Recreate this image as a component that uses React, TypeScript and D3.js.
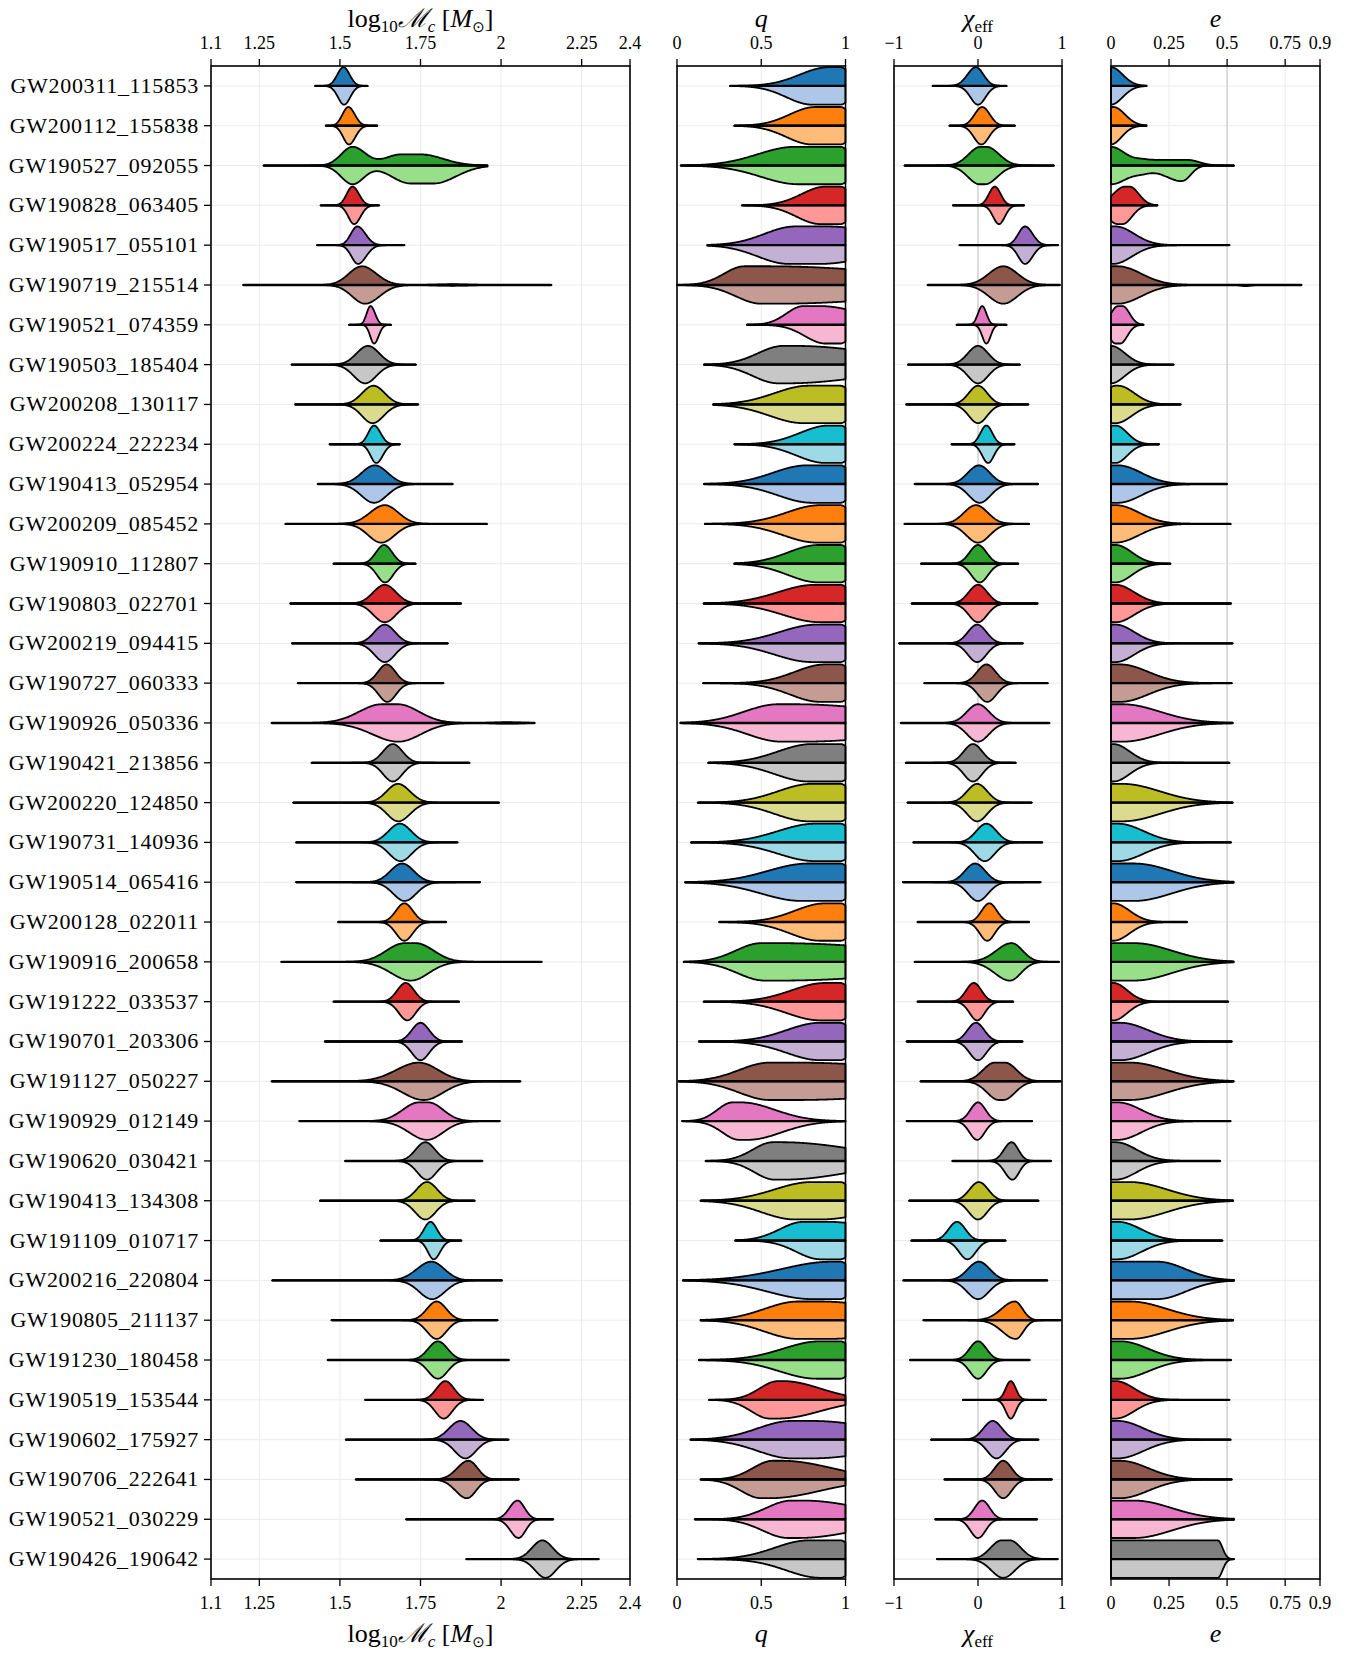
import React from "react";
import * as d3 from "d3";

// Event names, top to bottom
const events = [
  "GW200311_115853", "GW200112_155838", "GW190527_092055", "GW190828_063405",
  "GW190517_055101", "GW190719_215514", "GW190521_074359", "GW190503_185404",
  "GW200208_130117", "GW200224_222234", "GW190413_052954", "GW200209_085452",
  "GW190910_112807", "GW190803_022701", "GW200219_094415", "GW190727_060333",
  "GW190926_050336", "GW190421_213856", "GW200220_124850", "GW190731_140936",
  "GW190514_065416", "GW200128_022011", "GW190916_200658", "GW191222_033537",
  "GW190701_203306", "GW191127_050227", "GW190929_012149", "GW190620_030421",
  "GW190413_134308", "GW191109_010717", "GW200216_220804", "GW190805_211137",
  "GW191230_180458", "GW190519_153544", "GW190602_175927", "GW190706_222641",
  "GW190521_030229", "GW190426_190642",
];

// A half-violin profile: [plateau start, plateau end, left spread, right spread]
type Shape = [number, number, number, number];
// A violin: [sample min, sample max, upper half, lower half]
type Row = [number, number, Shape, Shape];

const chirpMass: Row[] = [
  [1.423, 1.586, [1.511, 1.511, 0.019, 0.019], [1.513, 1.513, 0.019, 0.019]],
  [1.456, 1.616, [1.526, 1.526, 0.018, 0.02], [1.528, 1.528, 0.018, 0.02]],
  [1.263, 1.958, [1.539, 1.539, 0.035, 0.04], [1.539, 1.539, 0.035, 0.035]],
  [1.44, 1.622, [1.539, 1.539, 0.018, 0.02], [1.544, 1.544, 0.018, 0.02]],
  [1.429, 1.7, [1.554, 1.554, 0.02, 0.025], [1.556, 1.556, 0.02, 0.025]],
  [1.2, 2.156, [1.568, 1.568, 0.04, 0.045], [1.578, 1.578, 0.04, 0.045]],
  [1.528, 1.659, [1.595, 1.595, 0.012, 0.014], [1.606, 1.606, 0.012, 0.014]],
  [1.35, 1.736, [1.587, 1.587, 0.035, 0.035], [1.578, 1.578, 0.035, 0.035]],
  [1.361, 1.743, [1.604, 1.604, 0.035, 0.035], [1.601, 1.601, 0.033, 0.035]],
  [1.468, 1.686, [1.606, 1.606, 0.018, 0.02], [1.613, 1.613, 0.018, 0.02]],
  [1.431, 1.85, [1.608, 1.608, 0.04, 0.04], [1.606, 1.606, 0.04, 0.04]],
  [1.331, 1.956, [1.639, 1.639, 0.045, 0.042], [1.628, 1.628, 0.04, 0.042]],
  [1.48, 1.735, [1.637, 1.637, 0.025, 0.025], [1.64, 1.64, 0.025, 0.025]],
  [1.346, 1.876, [1.639, 1.639, 0.035, 0.035], [1.639, 1.639, 0.035, 0.035]],
  [1.351, 1.835, [1.639, 1.639, 0.032, 0.032], [1.639, 1.639, 0.032, 0.032]],
  [1.369, 1.821, [1.645, 1.645, 0.027, 0.027], [1.647, 1.647, 0.027, 0.027]],
  [1.288, 2.104, [1.63, 1.68, 0.07, 0.065], [1.681, 1.681, 0.08, 0.07]],
  [1.412, 1.902, [1.664, 1.664, 0.03, 0.03], [1.664, 1.664, 0.03, 0.03]],
  [1.355, 1.994, [1.68, 1.68, 0.035, 0.037], [1.681, 1.681, 0.035, 0.037]],
  [1.364, 1.865, [1.686, 1.686, 0.035, 0.035], [1.688, 1.688, 0.035, 0.035]],
  [1.364, 1.935, [1.693, 1.693, 0.036, 0.036], [1.701, 1.701, 0.036, 0.036]],
  [1.494, 1.83, [1.7, 1.7, 0.026, 0.026], [1.7, 1.7, 0.026, 0.026]],
  [1.318, 2.126, [1.7, 1.735, 0.055, 0.055], [1.72, 1.72, 0.06, 0.055]],
  [1.48, 1.87, [1.704, 1.704, 0.026, 0.026], [1.709, 1.709, 0.026, 0.026]],
  [1.453, 1.879, [1.75, 1.75, 0.027, 0.027], [1.75, 1.75, 0.027, 0.027]],
  [1.288, 2.06, [1.745, 1.745, 0.07, 0.06], [1.76, 1.76, 0.065, 0.06]],
  [1.374, 1.996, [1.745, 1.775, 0.05, 0.045], [1.77, 1.77, 0.055, 0.05]],
  [1.516, 1.942, [1.765, 1.765, 0.03, 0.03], [1.77, 1.77, 0.03, 0.03]],
  [1.438, 1.918, [1.77, 1.77, 0.032, 0.032], [1.765, 1.765, 0.032, 0.032]],
  [1.625, 1.877, [1.781, 1.781, 0.02, 0.02], [1.791, 1.791, 0.018, 0.02]],
  [1.29, 2.003, [1.784, 1.784, 0.045, 0.04], [1.786, 1.786, 0.04, 0.04]],
  [1.474, 1.989, [1.8, 1.8, 0.03, 0.03], [1.8, 1.8, 0.03, 0.03]],
  [1.462, 2.024, [1.804, 1.804, 0.03, 0.03], [1.804, 1.804, 0.03, 0.03]],
  [1.578, 1.944, [1.827, 1.827, 0.027, 0.027], [1.822, 1.822, 0.027, 0.027]],
  [1.518, 2.023, [1.874, 1.874, 0.035, 0.035], [1.889, 1.889, 0.033, 0.033]],
  [1.549, 2.055, [1.899, 1.899, 0.035, 0.028], [1.894, 1.894, 0.035, 0.028]],
  [1.705, 2.162, [2.051, 2.051, 0.025, 0.022], [2.054, 2.054, 0.025, 0.022]],
  [1.892, 2.303, [2.128, 2.128, 0.032, 0.032], [2.138, 2.138, 0.032, 0.032]],
];

const massRatio: Row[] = [
  [0.315, 1, [0.9, 0.97, 0.17, 0.06], [0.8, 0.97, 0.15, 0.06]],
  [0.34, 1, [0.82, 0.97, 0.15, 0.06], [0.8, 0.97, 0.15, 0.06]],
  [0.022, 1, [0.7, 0.97, 0.22, 0.06], [0.72, 0.97, 0.22, 0.06]],
  [0.385, 1, [0.88, 0.97, 0.14, 0.06], [0.85, 0.97, 0.14, 0.06]],
  [0.18, 1, [0.7, 0.9, 0.18, 0.3], [0.66, 0.85, 0.18, 0.3]],
  [0.0, 1, [0.4, 0.55, 0.12, 0.8], [0.5, 0.6, 0.15, 0.8]],
  [0.415, 1, [0.75, 0.85, 0.1, 0.25], [0.88, 0.97, 0.12, 0.06]],
  [0.16, 1, [0.63, 0.7, 0.15, 0.5], [0.6, 0.65, 0.15, 0.5]],
  [0.215, 1, [0.78, 0.97, 0.2, 0.06], [0.75, 0.97, 0.2, 0.06]],
  [0.34, 1, [0.9, 0.97, 0.17, 0.06], [0.88, 0.97, 0.17, 0.06]],
  [0.16, 1, [0.77, 0.97, 0.2, 0.06], [0.8, 0.97, 0.2, 0.06]],
  [0.165, 1, [0.85, 0.97, 0.2, 0.06], [0.83, 0.97, 0.2, 0.06]],
  [0.34, 1, [0.84, 0.97, 0.18, 0.06], [0.84, 0.97, 0.18, 0.06]],
  [0.158, 1, [0.82, 0.97, 0.22, 0.06], [0.85, 0.97, 0.22, 0.06]],
  [0.128, 1, [0.83, 0.97, 0.22, 0.06], [0.8, 0.97, 0.22, 0.06]],
  [0.155, 1, [0.88, 0.97, 0.18, 0.06], [0.85, 0.97, 0.18, 0.06]],
  [0.02, 1, [0.6, 0.7, 0.2, 0.6], [0.62, 0.75, 0.2, 0.6]],
  [0.185, 1, [0.8, 0.97, 0.2, 0.06], [0.78, 0.97, 0.2, 0.06]],
  [0.123, 1, [0.8, 0.97, 0.2, 0.06], [0.78, 0.97, 0.2, 0.06]],
  [0.083, 1, [0.82, 0.97, 0.22, 0.06], [0.82, 0.97, 0.22, 0.06]],
  [0.048, 1, [0.78, 0.97, 0.24, 0.06], [0.74, 0.97, 0.24, 0.06]],
  [0.25, 1, [0.88, 0.97, 0.18, 0.06], [0.85, 0.97, 0.18, 0.06]],
  [0.04, 1, [0.5, 0.6, 0.15, 0.8], [0.52, 0.62, 0.16, 0.8]],
  [0.158, 1, [0.88, 0.97, 0.2, 0.06], [0.85, 0.97, 0.2, 0.06]],
  [0.13, 1, [0.85, 0.97, 0.2, 0.06], [0.85, 0.97, 0.2, 0.06]],
  [0.01, 1, [0.55, 0.7, 0.18, 0.8], [0.55, 0.7, 0.18, 0.8]],
  [0.03, 1, [0.33, 0.38, 0.09, 0.2], [0.37, 0.42, 0.1, 0.2]],
  [0.17, 1, [0.57, 0.62, 0.12, 0.45], [0.58, 0.63, 0.12, 0.4]],
  [0.14, 1, [0.8, 0.97, 0.22, 0.06], [0.7, 0.85, 0.2, 0.3]],
  [0.345, 1, [0.75, 0.9, 0.14, 0.3], [0.85, 0.97, 0.14, 0.06]],
  [0.035, 1, [0.92, 0.97, 0.3, 0.06], [0.8, 0.97, 0.26, 0.06]],
  [0.14, 1, [0.72, 0.85, 0.2, 0.4], [0.72, 0.9, 0.2, 0.4]],
  [0.13, 1, [0.85, 0.97, 0.22, 0.06], [0.83, 0.97, 0.22, 0.06]],
  [0.19, 1, [0.6, 0.63, 0.11, 0.22], [0.55, 0.6, 0.11, 0.25]],
  [0.08, 1, [0.68, 0.8, 0.2, 0.4], [0.68, 0.8, 0.2, 0.4]],
  [0.14, 1, [0.57, 0.62, 0.12, 0.3], [0.5, 0.55, 0.12, 0.3]],
  [0.105, 1, [0.68, 0.75, 0.15, 0.35], [0.66, 0.72, 0.15, 0.35]],
  [0.123, 1, [0.78, 0.97, 0.2, 0.06], [0.85, 0.97, 0.2, 0.06]],
];

const chiEff: Row[] = [
  [-0.54, 0.34, [-0.025, -0.025, 0.1, 0.09], [0.0, 0.0, 0.09, 0.09]],
  [-0.34, 0.44, [0.05, 0.05, 0.09, 0.09], [0.04, 0.04, 0.09, 0.09]],
  [-0.875, 0.905, [0.03, 0.1, 0.14, 0.15], [0.02, 0.08, 0.14, 0.15]],
  [-0.3, 0.55, [0.2, 0.2, 0.07, 0.07], [0.25, 0.25, 0.07, 0.07]],
  [-0.22, 0.955, [0.56, 0.56, 0.08, 0.09], [0.56, 0.56, 0.08, 0.09]],
  [-0.6, 0.975, [0.3, 0.3, 0.17, 0.17], [0.3, 0.3, 0.17, 0.17]],
  [-0.255, 0.34, [0.05, 0.05, 0.05, 0.05], [0.1, 0.1, 0.05, 0.05]],
  [-0.835, 0.5, [0.0, 0.0, 0.12, 0.12], [0.0, 0.0, 0.12, 0.12]],
  [-0.855, 0.6, [0.0, 0.0, 0.11, 0.11], [0.0, 0.0, 0.11, 0.11]],
  [-0.315, 0.435, [0.1, 0.1, 0.07, 0.07], [0.12, 0.12, 0.07, 0.07]],
  [-0.755, 0.715, [0.01, 0.01, 0.13, 0.13], [0.02, 0.02, 0.13, 0.13]],
  [-0.875, 0.61, [-0.025, -0.025, 0.14, 0.14], [0.0, 0.0, 0.14, 0.14]],
  [-0.68, 0.48, [0.0, 0.0, 0.1, 0.1], [0.02, 0.02, 0.1, 0.1]],
  [-0.79, 0.71, [0.0, 0.0, 0.11, 0.11], [0.0, 0.0, 0.11, 0.11]],
  [-0.94, 0.535, [-0.01, -0.01, 0.11, 0.11], [-0.01, -0.01, 0.11, 0.11]],
  [-0.64, 0.83, [0.1, 0.1, 0.11, 0.11], [0.11, 0.11, 0.11, 0.11]],
  [-0.92, 0.85, [0.0, 0.0, 0.13, 0.13], [0.0, 0.0, 0.13, 0.13]],
  [-0.86, 0.45, [-0.06, -0.06, 0.11, 0.11], [-0.06, -0.06, 0.11, 0.11]],
  [-0.84, 0.64, [-0.01, -0.01, 0.12, 0.12], [-0.01, -0.01, 0.12, 0.12]],
  [-0.77, 0.765, [0.1, 0.1, 0.12, 0.12], [0.08, 0.08, 0.12, 0.12]],
  [-0.895, 0.745, [-0.035, -0.035, 0.12, 0.12], [0.0, 0.0, 0.12, 0.12]],
  [-0.72, 0.61, [0.135, 0.135, 0.09, 0.09], [0.11, 0.11, 0.09, 0.09]],
  [-0.755, 0.965, [0.4, 0.4, 0.18, 0.13], [0.38, 0.38, 0.18, 0.13]],
  [-0.72, 0.42, [-0.05, -0.05, 0.09, 0.09], [-0.01, -0.01, 0.09, 0.09]],
  [-0.85, 0.53, [-0.025, -0.025, 0.1, 0.1], [0.0, 0.0, 0.1, 0.1]],
  [-0.685, 0.985, [0.2, 0.32, 0.14, 0.14], [0.25, 0.3, 0.14, 0.14]],
  [-0.85, 0.645, [0.0, 0.0, 0.09, 0.09], [-0.01, -0.01, 0.09, 0.09]],
  [-0.305, 0.87, [0.4, 0.4, 0.09, 0.08], [0.41, 0.41, 0.09, 0.08]],
  [-0.82, 0.72, [0.01, 0.01, 0.11, 0.11], [0.0, 0.0, 0.11, 0.11]],
  [-0.795, 0.33, [-0.25, -0.25, 0.1, 0.1], [-0.125, -0.125, 0.1, 0.1]],
  [-0.89, 0.825, [0.01, 0.01, 0.13, 0.13], [0.0, 0.0, 0.13, 0.13]],
  [-0.65, 0.985, [0.44, 0.44, 0.16, 0.09], [0.45, 0.45, 0.16, 0.09]],
  [-0.81, 0.615, [0.0, 0.0, 0.1, 0.1], [0.0, 0.0, 0.1, 0.1]],
  [-0.18, 0.81, [0.39, 0.39, 0.06, 0.06], [0.39, 0.39, 0.06, 0.06]],
  [-0.56, 0.72, [0.175, 0.175, 0.11, 0.11], [0.22, 0.22, 0.11, 0.11]],
  [-0.4, 0.88, [0.3, 0.3, 0.1, 0.1], [0.3, 0.3, 0.1, 0.1]],
  [-0.51, 0.705, [0.05, 0.05, 0.09, 0.09], [0.0, 0.0, 0.09, 0.09]],
  [-0.49, 0.95, [0.28, 0.38, 0.13, 0.13], [0.3, 0.3, 0.14, 0.14]],
];

const eccentricity: Row[] = [
  [0, 0.153, [0, 0, 0.05, 0.05], [0, 0, 0.05, 0.05]],
  [0, 0.153, [0, 0.01, 0.05, 0.05], [0, 0, 0.05, 0.045]],
  [0, 0.53, [0, 0, 0.05, 0.06], [0, 0, 0.05, 0.07]],
  [0, 0.2, [0.06, 0.08, 0.05, 0.04], [0.03, 0.05, 0.05, 0.04]],
  [0, 0.51, [0, 0.02, 0.05, 0.08], [0, 0.01, 0.05, 0.08]],
  [0, 0.82, [0, 0.03, 0.05, 0.1], [0, 0.03, 0.05, 0.1]],
  [0, 0.14, [0.03, 0.05, 0.03, 0.03], [0.02, 0.04, 0.03, 0.03]],
  [0, 0.27, [0, 0, 0.05, 0.06], [0, 0, 0.05, 0.06]],
  [0, 0.3, [0.02, 0.03, 0.05, 0.07], [0.01, 0.02, 0.05, 0.07]],
  [0, 0.207, [0.01, 0.02, 0.05, 0.05], [0.01, 0.02, 0.05, 0.05]],
  [0, 0.5, [0, 0.03, 0.05, 0.1], [0, 0.03, 0.05, 0.1]],
  [0, 0.515, [0, 0.02, 0.05, 0.1], [0, 0.02, 0.05, 0.1]],
  [0, 0.256, [0, 0.02, 0.05, 0.07], [0, 0.02, 0.05, 0.07]],
  [0, 0.517, [0, 0.02, 0.05, 0.08], [0, 0.02, 0.05, 0.08]],
  [0, 0.524, [0, 0.02, 0.05, 0.08], [0, 0.02, 0.05, 0.08]],
  [0, 0.52, [0, 0.04, 0.05, 0.12], [0, 0.04, 0.05, 0.12]],
  [0, 0.524, [0, 0.05, 0.05, 0.16], [0, 0.05, 0.05, 0.16]],
  [0, 0.51, [0, 0.01, 0.05, 0.07], [0, 0.01, 0.05, 0.07]],
  [0, 0.524, [0, 0.05, 0.05, 0.16], [0, 0.05, 0.05, 0.16]],
  [0, 0.517, [0, 0.03, 0.05, 0.11], [0, 0.03, 0.05, 0.11]],
  [0, 0.528, [0, 0.1, 0.05, 0.16], [0, 0.1, 0.05, 0.16]],
  [0, 0.328, [0, 0.01, 0.05, 0.07], [0, 0.01, 0.05, 0.07]],
  [0, 0.528, [0, 0.1, 0.05, 0.16], [0, 0.1, 0.05, 0.16]],
  [0, 0.505, [0, 0.01, 0.05, 0.06], [0, 0.01, 0.05, 0.06]],
  [0, 0.52, [0, 0.04, 0.05, 0.12], [0, 0.04, 0.05, 0.12]],
  [0, 0.528, [0, 0.08, 0.05, 0.16], [0, 0.08, 0.05, 0.16]],
  [0, 0.515, [0, 0.03, 0.05, 0.1], [0, 0.03, 0.05, 0.1]],
  [0, 0.47, [0, 0.02, 0.05, 0.09], [0, 0.02, 0.05, 0.09]],
  [0, 0.526, [0, 0.08, 0.05, 0.16], [0, 0.08, 0.05, 0.16]],
  [0, 0.48, [0, 0.03, 0.05, 0.1], [0, 0.03, 0.05, 0.1]],
  [0, 0.53, [0, 0.2, 0.05, 0.12], [0, 0.2, 0.05, 0.12]],
  [0, 0.526, [0, 0.08, 0.05, 0.16], [0, 0.08, 0.05, 0.16]],
  [0, 0.517, [0, 0.04, 0.05, 0.12], [0, 0.04, 0.05, 0.12]],
  [0, 0.51, [0, 0.02, 0.05, 0.08], [0, 0.02, 0.05, 0.08]],
  [0, 0.515, [0, 0.03, 0.05, 0.11], [0, 0.03, 0.05, 0.11]],
  [0, 0.52, [0, 0.04, 0.05, 0.12], [0, 0.04, 0.05, 0.12]],
  [0, 0.53, [0, 0.1, 0.05, 0.16], [0, 0.1, 0.05, 0.16]],
  [0, 0.53, [0, 0.46, 0.05, 0.02], [0, 0.46, 0.05, 0.02]],
];

// Secondary modes and thin tails: [panel, row, half, shape, weight]
type Extra = [string, number, "upper" | "lower", Shape, number];
const extraModes: Extra[] = [
  ["mc", 2, "upper", [1.69, 1.75, 0.05, 0.07], 0.6],
  ["mc", 2, "lower", [1.72, 1.79, 0.06, 0.07], 0.97],
  ["mc", 5, "upper", [1.85, 1.85, 0.05, 0.05], 0.04],
  ["mc", 5, "lower", [1.85, 1.85, 0.05, 0.05], 0.04],
  ["mc", 16, "upper", [2.02, 2.02, 0.04, 0.04], 0.04],
  ["mc", 16, "lower", [2.02, 2.02, 0.04, 0.04], 0.04],
  ["e", 2, "upper", [0.15, 0.33, 0.05, 0.05], 0.3],
  ["e", 2, "lower", [0.31, 0.31, 0.05, 0.035], 0.75],
  ["e", 2, "lower", [0.15, 0.22, 0.05, 0.05], 0.35],
  ["e", 5, "lower", [0.58, 0.58, 0.02, 0.02], 0.06],
];

// Tick values and their labels for each panel
const mcTicks = [1.1, 1.25, 1.5, 1.75, 2, 2.25, 2.4];
const mcTickLabels = ["1.1", "1.25", "1.5", "1.75", "2", "2.25", "2.4"];
const qTicks = [0, 0.5, 1];
const qTickLabels = ["0", "0.5", "1"];
const chiTicks = [-1, 0, 1];
const chiTickLabels = ["\u22121", "0", "1"];
const eTicks = [0, 0.25, 0.5, 0.75, 0.9];
const eTickLabels = ["0", "0.25", "0.5", "0.75", "0.9"];

const darkColors = d3.schemeCategory10;
const lightColors = [
  "#aec7e8", "#ffbb78", "#98df8a", "#ff9896", "#c5b0d5",
  "#c49c94", "#f7b6d2", "#c7c7c7", "#dbdb8d", "#9edae5",
];

const FONT = "'Liberation Serif', 'DejaVu Serif', serif";
const TOP = 66;
const BOTTOM = 1579;

type Panel = {
  key: string;
  rows: Row[];
  domain: [number, number];
  x0: number;
  x1: number;
  ticks: number[];
  labels: string[];
  refLine?: number;
  title: React.ReactNode;
};

const panels: Panel[] = [
  {
    key: "mc", rows: chirpMass, domain: [1.1, 2.4], x0: 211, x1: 630,
    ticks: mcTicks, labels: mcTickLabels,
    title: (
      <>
        log<tspan fontSize={17} dy={5}>10</tspan>
        <tspan dy={-5} fontStyle="italic" fontFamily="'DejaVu Serif', serif">{"\u2133"}</tspan>
        <tspan fontSize={17} dy={5} fontStyle="italic">c</tspan>
        <tspan dy={-5}>{" ["}</tspan>
        <tspan fontStyle="italic">M</tspan>
        <tspan fontSize={15} dy={5} fontFamily="'DejaVu Sans', sans-serif">{"\u2299"}</tspan>
        <tspan dy={-5}>]</tspan>
      </>
    ),
  },
  {
    key: "q", rows: massRatio, domain: [0, 1], x0: 677, x1: 845.5,
    ticks: qTicks, labels: qTickLabels,
    title: <tspan fontStyle="italic">q</tspan>,
  },
  {
    key: "chi", rows: chiEff, domain: [-1, 1], x0: 894, x1: 1062,
    ticks: chiTicks, labels: chiTickLabels, refLine: 0,
    title: (
      <>
        <tspan fontStyle="italic">{"\u03c7"}</tspan>
        <tspan fontSize={17} dy={5}>eff</tspan>
      </>
    ),
  },
  {
    key: "e", rows: eccentricity, domain: [0, 0.9], x0: 1111, x1: 1320,
    ticks: eTicks, labels: eTickLabels, refLine: 0.5,
    title: <tspan fontStyle="italic">e</tspan>,
  },
];

const y = d3.scalePoint<number>().domain(d3.range(events.length)).range([TOP, BOTTOM]).padding(0.5);
const step = y.step();
const AMP = 0.47 * step;

function bump(v: number, s: Shape, w: number) {
  const [a, b, sl, sr] = s;
  if (v < a) return w * Math.exp(-0.5 * ((v - a) / sl) ** 2);
  if (v > b) return w * Math.exp(-0.5 * ((v - b) / sr) ** 2);
  return w;
}

function halfProfile(panelKey: string, row: number, half: "upper" | "lower", lo: number, hi: number, shape: Shape) {
  const extras = extraModes.filter((e) => e[0] === panelKey && e[1] === row && e[2] === half);
  const n = 220;
  const pts = d3.range(n + 1).map((i) => {
    const v = lo + ((hi - lo) * i) / n;
    let p = bump(v, shape, 1);
    for (const e of extras) p += bump(v, e[3], e[4]);
    return { v, p };
  });
  const m = d3.max(pts, (d) => d.p) || 1;
  return pts.map((d) => ({ v: d.v, p: d.p / m }));
}

function PanelView({ panel, showLabels }: { panel: Panel; showLabels: boolean }) {
  const x = d3.scaleLinear().domain(panel.domain).range([panel.x0, panel.x1]);
  const cx = (panel.x0 + panel.x1) / 2;
  return (
    <g>
      {/* grid */}
      {panel.ticks.map((t) => (
        <line key={"gx" + t} x1={x(t)} x2={x(t)} y1={TOP} y2={BOTTOM} stroke="#ebebeb" strokeWidth={1} />
      ))}
      {events.map((_, i) => (
        <line key={"gy" + i} x1={panel.x0} x2={panel.x1} y1={y(i)} y2={y(i)} stroke="#ebebeb" strokeWidth={1} />
      ))}
      {panel.refLine !== undefined && (
        <line x1={x(panel.refLine)} x2={x(panel.refLine)} y1={TOP} y2={BOTTOM} stroke="#d6d6d6" strokeWidth={1.6} />
      )}
      {/* violins */}
      {panel.rows.map((r, i) => {
        const cy = y(i) as number;
        const [lo, hi, up, low] = r;
        const upPts = halfProfile(panel.key, i, "upper", lo, hi, up);
        const lowPts = halfProfile(panel.key, i, "lower", lo, hi, low);
        const areaUp = d3.area<{ v: number; p: number }>()
          .x((d) => x(d.v)).y0(cy).y1((d) => cy - AMP * d.p);
        const areaLow = d3.area<{ v: number; p: number }>()
          .x((d) => x(d.v)).y0(cy).y1((d) => cy + AMP * d.p);
        return (
          <g key={"v" + i}>
            <path d={areaUp(upPts) || ""} fill={darkColors[i % 10]} stroke="#000" strokeWidth={1.8} strokeLinejoin="round" />
            <path d={areaLow(lowPts) || ""} fill={lightColors[i % 10]} stroke="#000" strokeWidth={1.8} strokeLinejoin="round" />
            <line x1={x(lo)} x2={x(hi)} y1={cy} y2={cy} stroke="#000" strokeWidth={2.4} />
          </g>
        );
      })}
      {/* frame */}
      <rect x={panel.x0} y={TOP} width={panel.x1 - panel.x0} height={BOTTOM - TOP} fill="none" stroke="#000" strokeWidth={1.6} />
      {panel.ticks.map((t, k) => (
        <g key={"t" + t}>
          <line x1={x(t)} x2={x(t)} y1={TOP} y2={TOP - 7} stroke="#000" strokeWidth={1.3} />
          <line x1={x(t)} x2={x(t)} y1={BOTTOM} y2={BOTTOM + 7} stroke="#000" strokeWidth={1.3} />
          <text x={x(t)} y={49} fontSize={18} textAnchor="middle">{panel.labels[k]}</text>
          <text x={x(t)} y={1609} fontSize={18} textAnchor="middle">{panel.labels[k]}</text>
        </g>
      ))}
      <text x={cx} y={27} fontSize={26} textAnchor="middle">{panel.title}</text>
      <text x={cx} y={1642} fontSize={26} textAnchor="middle">{panel.title}</text>
      {showLabels &&
        events.map((name, i) => (
          <g key={"l" + i}>
            <line x1={panel.x0} x2={panel.x0 - 7} y1={y(i)} y2={y(i)} stroke="#000" strokeWidth={1.3} />
            <text x={panel.x0 - 12} y={(y(i) as number) + 7} fontSize={22} letterSpacing={0.7} textAnchor="end">{name}</text>
          </g>
        ))}
    </g>
  );
}

export default function App() {
  return (
    <svg
      width={1355}
      height={1653}
      style={{ position: "absolute", left: 0, top: 0, background: "#fff" }}
      fontFamily={FONT}
    >
      <rect x={0} y={0} width={1355} height={1653} fill="#fff" />
      {panels.map((p, i) => (
        <PanelView key={p.key} panel={p} showLabels={i === 0} />
      ))}
    </svg>
  );
}
